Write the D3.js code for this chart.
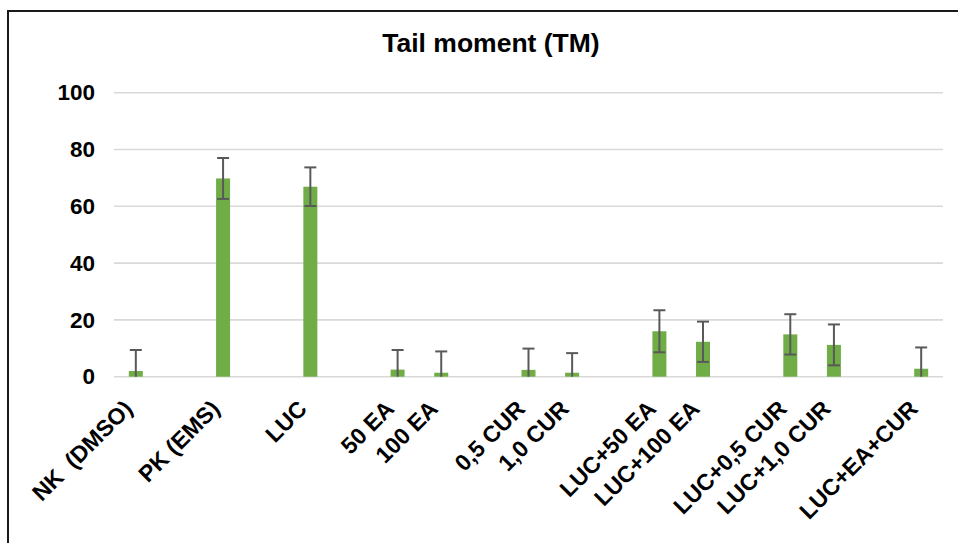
<!DOCTYPE html>
<html>

<head>
  <meta charset="utf-8">
  <title>tail-moment</title>
  <style>
    * {
      padding: 0;
      margin: 0;
    }

    html,
    body {
      width: 958px;
      height: 543px;
      overflow: hidden;
      background: #fff;
    }

    text {
      font-family: "Liberation Sans", Arial, sans-serif;
      font-weight: bold;
      fill: #000;
    }
  </style>
</head>

<body>
  <svg id="svg"></svg>
  <script src="https://cdnjs.cloudflare.com/ajax/libs/d3/7.8.5/d3.min.js"></script>
  <script>
    // empty strings are the spacer slots between the groups
    const categories = ['NK  (DMSO)', '', 'PK (EMS)', '', 'LUC', '', '50 EA', '100 EA', '', '0,5 CUR', '1,0 CUR', '',
      'LUC+50 EA', 'LUC+100 EA', '', 'LUC+0,5 CUR', 'LUC+1,0 CUR', '', 'LUC+EA+CUR'];
    const values = [2.0, null, 69.8, null, 66.9, null, 2.5, 1.4, null, 2.4, 1.4, null,
      16.0, 12.3, null, 14.9, 11.2, null, 2.8];
    const errors = [7.4, null, 7.2, null, 6.8, null, 6.9, 7.5, null, 7.5, 6.9, null,
      7.4, 7.1, null, 7.1, 7.2, null, 7.5];
    const yTicks = [0, 20, 40, 60, 80, 100];
    const title = 'Tail moment (TM)';

    const W = 958, H = 543;
    const plot = { left: 114, right: 943, top: 92.7, bottom: 376.7 };

    const svg = d3.select('#svg').attr('width', W).attr('height', H);

    // chart frame (runs off the right and bottom of the picture)
    svg.append('rect')
      .attr('x', 8).attr('y', 11)
      .attr('width', 1000).attr('height', 600)
      .attr('fill', 'none')
      .attr('stroke', '#1a1a1a')
      .attr('stroke-width', 2);

    const x = d3.scaleBand()
      .domain(d3.range(categories.length))
      .range([plot.left, plot.right])
      .padding(0);

    const y = d3.scaleLinear()
      .domain([0, 100])
      .range([plot.bottom, plot.top]);

    // title
    svg.append('text')
      .attr('x', 491)
      .attr('y', 52)
      .attr('text-anchor', 'middle')
      .style('font-size', '26.5px')
      .text(title);

    // grid
    svg.append('g')
      .selectAll('line')
      .data(yTicks)
      .join('line')
      .attr('x1', plot.left)
      .attr('x2', plot.right)
      .attr('y1', d => y(d))
      .attr('y2', d => y(d))
      .attr('stroke', '#d9d9d9')
      .attr('stroke-width', 1.6);

    // y axis labels
    const yAxis = d3.axisLeft(y).tickValues(yTicks).tickSize(0).tickPadding(19);
    svg.append('g')
      .attr('transform', `translate(${plot.left}, 0)`)
      .call(yAxis)
      .call(g => g.select('.domain').remove())
      .call(g => g.selectAll('text')
        .style('font-size', '22.5px')
        .style('font-family', '"Liberation Sans", Arial, sans-serif')
        .attr('fill', '#000'));

    const barW = 14;
    const cx = i => x(i) + x.bandwidth() / 2;
    const idx = d3.range(categories.length).filter(i => values[i] !== null);

    // bars
    svg.append('g')
      .selectAll('rect')
      .data(idx)
      .join('rect')
      .attr('x', i => cx(i) - barW / 2)
      .attr('y', i => y(values[i]))
      .attr('width', barW)
      .attr('height', i => y(0) - y(values[i]))
      .attr('fill', '#70ad47');

    // error bars, clipped at zero like the original
    const err = svg.append('g')
      .attr('stroke', '#595959')
      .attr('stroke-width', 2);

    idx.forEach(i => {
      const hi = values[i] + errors[i];
      const lo = Math.max(0, values[i] - errors[i]);
      err.append('line')
        .attr('x1', cx(i)).attr('x2', cx(i))
        .attr('y1', y(hi)).attr('y2', y(lo));
      err.append('line')
        .attr('x1', cx(i) - 6).attr('x2', cx(i) + 6)
        .attr('y1', y(hi)).attr('y2', y(hi));
      if (lo > 0) {
        err.append('line')
          .attr('x1', cx(i) - 6).attr('x2', cx(i) + 6)
          .attr('y1', y(lo)).attr('y2', y(lo));
      }
    });

    // rotated category labels
    svg.append('g')
      .selectAll('text')
      .data(idx)
      .join('text')
      .attr('transform', i => `translate(${cx(i) - 2}, ${plot.bottom + 33.5}) rotate(-45)`)
      .attr('text-anchor', 'end')
      .style('font-size', '23px')
      .style('white-space', 'pre')
      .text(i => categories[i]);
  </script>

</body>

</html>
